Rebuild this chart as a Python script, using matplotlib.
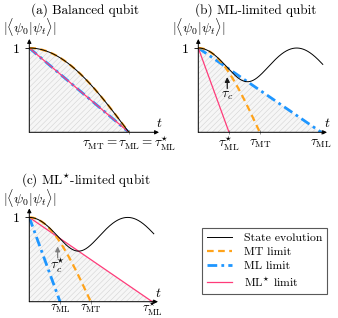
import numpy as np
import matplotlib
matplotlib.use('Agg')
import matplotlib.pyplot as plt
from matplotlib.lines import Line2D

plt.rcParams['font.family'] = 'cmr10'
plt.rcParams['mathtext.fontset'] = 'cm'
plt.rcParams['axes.unicode_minus'] = False
plt.rcParams['hatch.linewidth'] = 0.35

# ground-state population of each qubit (energy gap = 1, hbar = 1)
p_ground = [0.5, 0.8, 0.2]
titles = ['(a) Balanced qubit', '(b) ML-limited qubit', r'(c) ML$^{\star}$-limited qubit']
t_axis_end = [4.09, 8.22, 8.22]
t_curve_end = [np.pi, 7.95, 7.95]
tau_c = [None, 1.85, 1.81]
tau_c_labels = [None, r'$\tau_c$', r'$\tau_c^{\star}$']
arrow_colors = [None, '0.1', '0.5']
label_a = r'$\tau_{\mathrm{MT}}=\tau_{\mathrm{ML}}=\tau_{\mathrm{ML}}^{\star}$'
lab_mt = r'$\tau_{\mathrm{MT}}$'
lab_ml = r'$\tau_{\mathrm{ML}}$'
lab_mls = r'$\tau_{\mathrm{ML}}^{\star}$'
legend_labels = ['State evolution', 'MT limit', 'ML limit', r'ML$^{\star}$ limit']

c_state = 'black'
c_mt = '#ffa31a'
c_ml = '#1e96ff'
c_mls = '#ff3b7a'

W, H = 338, 318
fig = plt.figure(figsize=(W / 100, H / 100), dpi=100)

# panel boxes in pixels: left, bottom, right, top
boxes = [(29.3, 132.3, 159, 39), (198.3, 132.3, 327, 39), (29.3, 301.7, 158, 208.4)]
title_pos = [(85, 10), (255.5, 10), (86, 180)]
ylab_val = [1.245, 1.245, 1.23]
tick_lab_y = [-0.135, -0.14, -0.09]
tick_lab_size = [9.5, 9.5, 9]
ymax = 1.107

for i in range(3):
    x0, y0, x1, y1 = boxes[i]
    ax = fig.add_axes([x0 / W, 1 - y0 / H, (x1 - x0) / W, (y0 - y1) / H])
    p = p_ground[i]
    dE = np.sqrt(p * (1 - p))
    tau_mt = np.pi / (2 * dE)
    tau_ml = np.pi / (2 * (1 - p))
    tau_mls = np.pi / (2 * p)

    # shaded region below the tightest bound
    tt = np.linspace(0, max(tau_mt, tau_ml, tau_mls), 800)
    b_mt = np.where(tt <= tau_mt, np.cos(dE * tt), 0)
    b_ml = np.clip(1 - tt / tau_ml, 0, None)
    b_mls = np.clip(1 - tt / tau_mls, 0, None)
    bound = np.maximum(np.maximum(b_mt, b_ml), b_mls)
    ax.fill_between(tt, 0, bound, facecolor='#f6f6f6', edgecolor='#cfcfcf',
                    hatch='//////', linewidth=0)

    ax.plot([0, tau_ml], [1, 0], color=c_ml, lw=2.0, ls=(0, (3.5, 1.5, 1, 1.5)),
            solid_capstyle='butt')
    ax.plot([0, tau_mls], [1, 0], color=c_mls, lw=0.9)
    t_mt = np.linspace(0, tau_mt, 300)
    ax.plot(t_mt, np.cos(dE * t_mt), color=c_mt, lw=1.6, ls=(0, (3, 2)))
    t = np.linspace(0, t_curve_end[i], 600)
    state = np.sqrt(np.cos(t / 2) ** 2 + (2 * p - 1) ** 2 * np.sin(t / 2) ** 2)
    ax.plot(t, state, color=c_state, lw=0.7)

    ax.set_xlim(0, t_axis_end[i])
    ax.set_ylim(0, ymax)
    for s in ax.spines.values():
        s.set_visible(False)
    ax.annotate('', xy=(1, 0), xytext=(0, 0), xycoords='axes fraction',
                arrowprops=dict(arrowstyle='-|>', lw=0.7, color='k', mutation_scale=6,
                                shrinkA=0, shrinkB=0))
    ax.annotate('', xy=(0, 1), xytext=(0, 0), xycoords='axes fraction',
                arrowprops=dict(arrowstyle='-|>', lw=0.7, color='k', mutation_scale=6,
                                shrinkA=0, shrinkB=0))
    ax.set_yticks([1], labels=['1'])
    ax.tick_params(axis='y', length=3, width=0.6, pad=4, labelsize=10)
    ax.set_xticks(sorted({round(tau_mt, 6), round(tau_ml, 6), round(tau_mls, 6)}), labels=[])
    ax.tick_params(axis='x', direction='inout', length=3, width=0.5, color='0.4')

    ax.text(0, ylab_val[i], r'$|\langle\psi_0|\psi_t\rangle|$', ha='center', va='center',
            fontsize=10)
    ax.text(t_axis_end[i], 0.1, r'$t$', ha='center', va='center', fontsize=10)
    ly = tick_lab_y[i]
    fs = tick_lab_size[i]
    if i == 0:
        ax.text(tau_ml, ly, label_a, ha='center', va='center', fontsize=fs)
    else:
        for tau, lab in [(tau_mt, lab_mt), (tau_ml, lab_ml), (tau_mls, lab_mls)]:
            ax.text(tau, ly, lab, ha='center', va='center', fontsize=fs)
        ax.annotate('', xy=(tau_c[i], 0.655), xytext=(tau_c[i], 0.52),
                    arrowprops=dict(arrowstyle='-|>', lw=0.9, color=arrow_colors[i],
                                    mutation_scale=7, shrinkA=0, shrinkB=0))
        ax.text(tau_c[i], 0.43, tau_c_labels[i], ha='center', va='center', fontsize=10)

    fig.text(title_pos[i][0] / W, 1 - title_pos[i][1] / H, titles[i],
             ha='center', va='center', fontsize=9.5)

handles = [Line2D([], [], color=c_state, lw=0.7),
           Line2D([], [], color=c_mt, lw=1.6, ls=(0, (3, 2))),
           Line2D([], [], color=c_ml, lw=2.0, ls=(0, (3.5, 1.5, 1, 1.5))),
           Line2D([], [], color=c_mls, lw=0.9)]
leg = fig.legend(handles, legend_labels, loc='upper left',
                 bbox_to_anchor=(201.7 / W, 1 - 227.7 / H), fontsize=8.5,
                 fancybox=False, edgecolor='0.35', framealpha=1, borderaxespad=0,
                 handlelength=2.1, labelspacing=0.3, borderpad=0.45, handletextpad=1.0)
leg.get_frame().set_linewidth(0.8)

fig.savefig('out.png', dpi=100)
